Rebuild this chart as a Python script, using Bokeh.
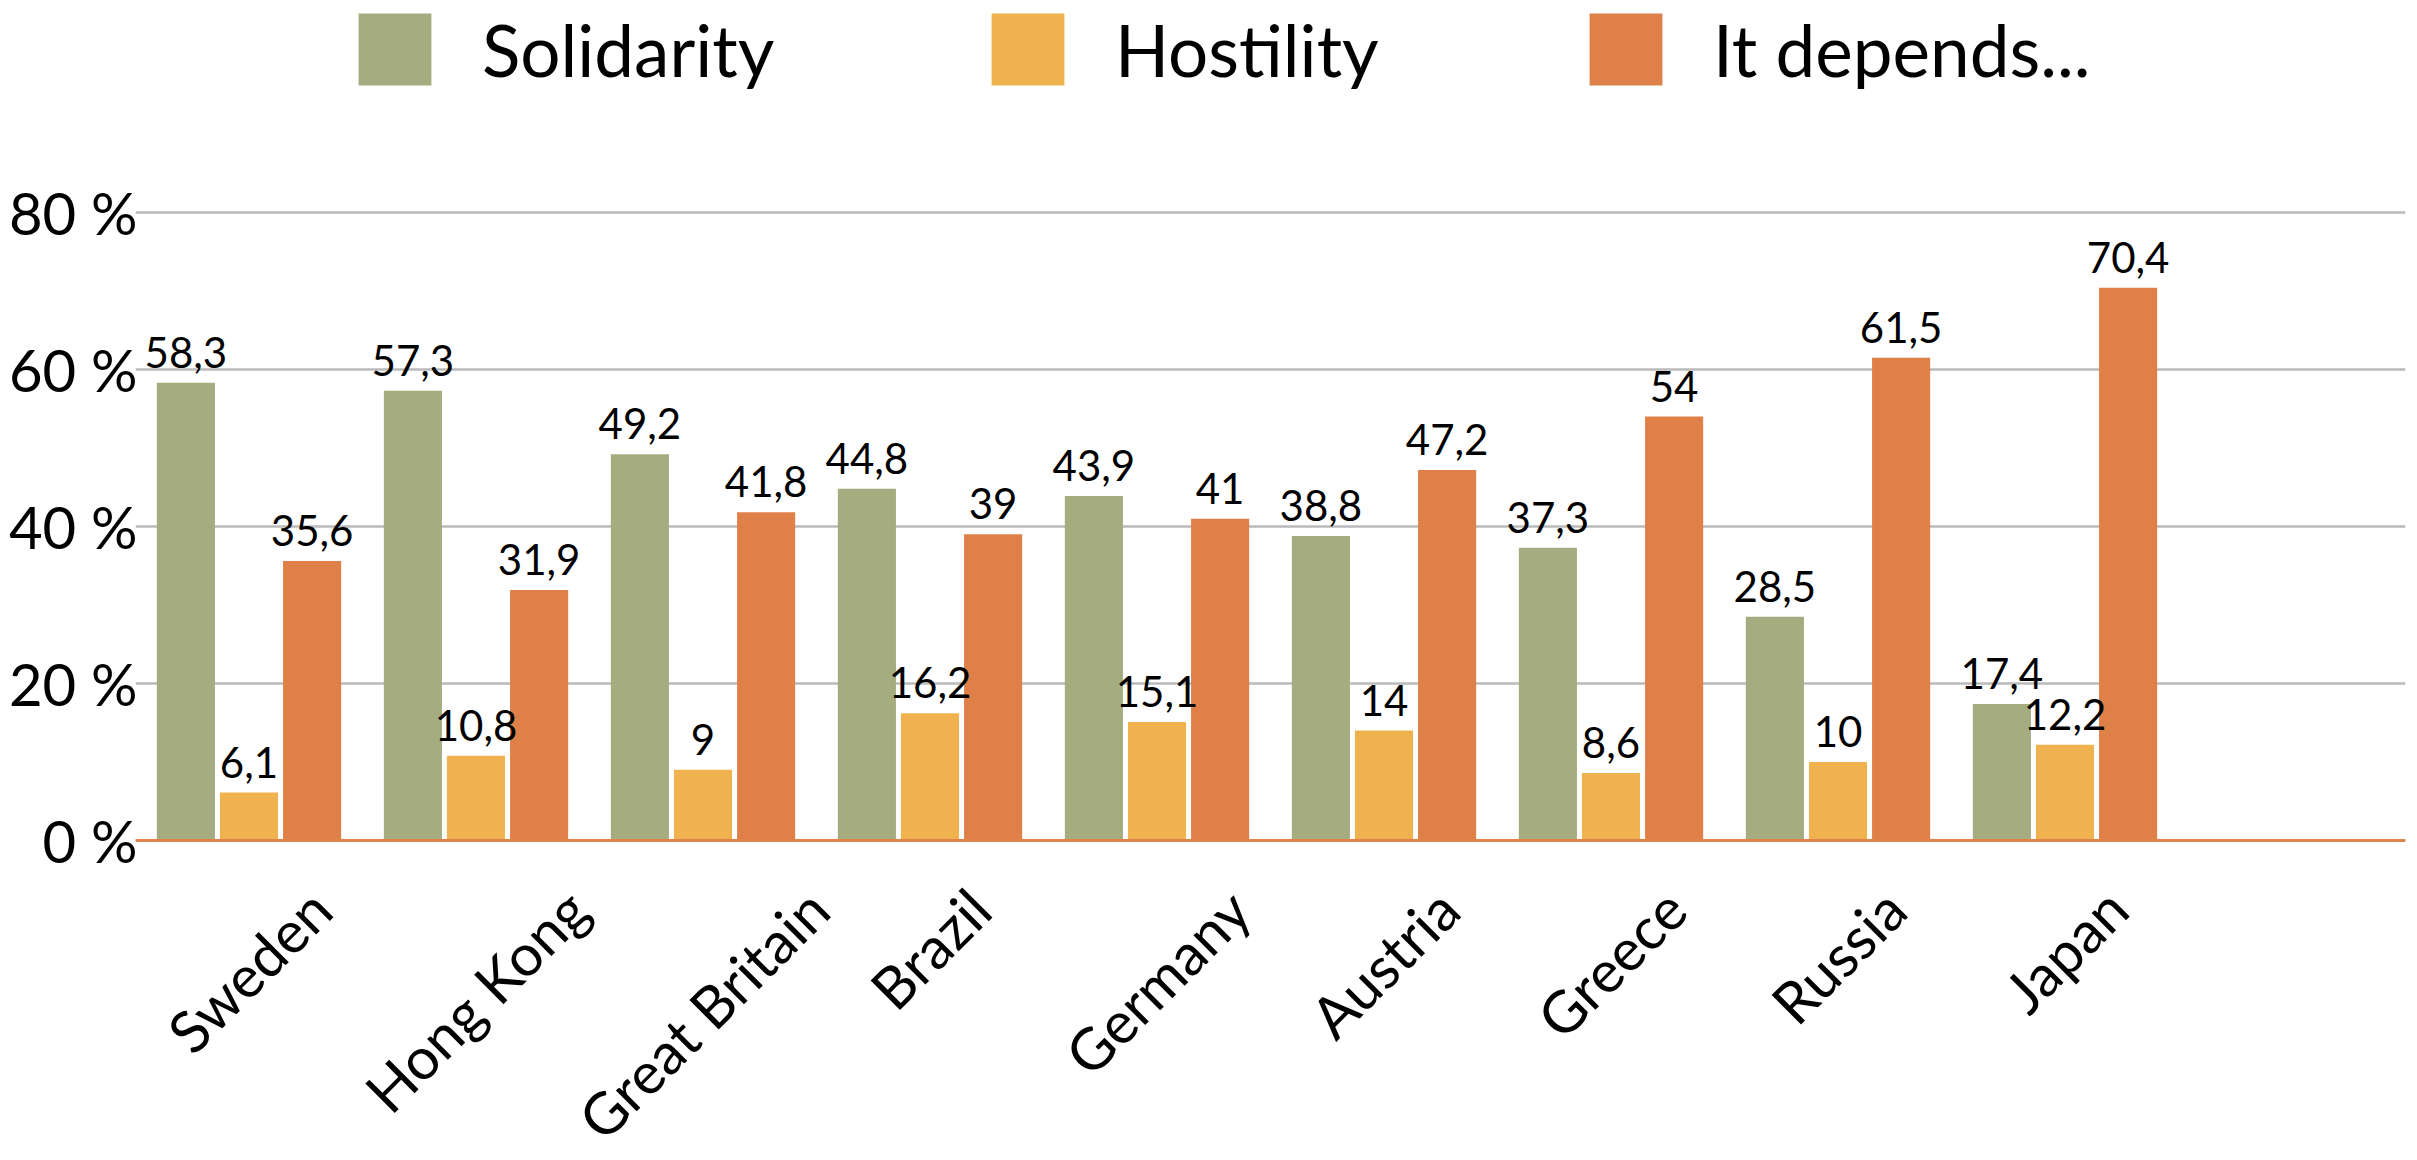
import math
from bokeh.plotting import figure
from bokeh.models import (ColumnDataSource, FactorRange, Range1d, FixedTicker,
                          PrintfTickFormatter, LabelSet, Legend, LegendItem, Span)
from bokeh.transform import dodge
from bokeh.core.properties import value
from bokeh.embed import file_html
from bokeh.resources import INLINE

# ---- data ----
countries = ["Sweden", "Hong Kong", "Great Britain", "Brazil", "Germany",
             "Austria", "Greece", "Russia", "Japan"]
solidarity = [58.3, 57.3, 49.2, 44.8, 43.9, 38.8, 37.3, 28.5, 17.4]
hostility = [6.1, 10.8, 9, 16.2, 15.1, 14, 8.6, 10, 12.2]
depends = [35.6, 31.9, 41.8, 39, 41, 47.2, 54, 61.5, 70.4]
series_names = ["Solidarity", "Hostility", "It depends..."]
y_ticks = [0, 20, 40, 60, 80]

colors = ["#A4AC80", "#F0B24F", "#DF8049"]
FONT = "Lato"


def fmt(v):
    return f"{v:g}".replace(".", ",")


# approximate Lato advance widths (em) for label centring
LATO_W = {" ": 0.19, "A": 0.68, "B": 0.64, "G": 0.73, "H": 0.76, "J": 0.39,
          "K": 0.69, "R": 0.64, "S": 0.53, "a": 0.51, "c": 0.47, "d": 0.58,
          "e": 0.54, "g": 0.53, "i": 0.25, "l": 0.25, "m": 0.86, "n": 0.58,
          "o": 0.58, "p": 0.58, "r": 0.38, "s": 0.44, "t": 0.36, "u": 0.58,
          "w": 0.80, "y": 0.53, "z": 0.47}
CAT_FS = 58


def text_w(s, fs):
    return sum(LATO_W.get(ch, 0.55) for ch in s) * fs


# layout: frame spans full height; value 0 at 840px, 80 at 212px from top
H = 1160
PX_PER_UNIT = (840 - 212) / 80
y_start = -(H - 840) / PX_PER_UNIT
y_end = 80 + 212 / PX_PER_UNIT

p = figure(width=2417, height=H,
           x_range=FactorRange(factors=countries + [" "]),
           y_range=Range1d(y_start, y_end),
           output_backend="svg", toolbar_location=None,
           min_border_left=135, min_border_right=12,
           min_border_top=0, min_border_bottom=0)

src = ColumnDataSource(dict(
    country=countries,
    solidarity=solidarity, hostility=hostility, depends=depends,
    solidarity_lab=[fmt(v) for v in solidarity],
    hostility_lab=[fmt(v) for v in hostility],
    depends_lab=[fmt(v) for v in depends],
))

keys = ["solidarity", "hostility", "depends"]
offsets = [-0.278, 0.0, 0.278]
renderers = []
for key, off, col in zip(keys, offsets, colors):
    r = p.vbar(x=dodge("country", off, range=p.x_range), bottom=0, top=key,
               width=0.256, source=src, fill_color=col, line_color=None)
    renderers.append(r)
    p.add_layout(LabelSet(x=dodge("country", off, range=p.x_range), y=key,
                          text=key + "_lab", source=src,
                          text_align="center", text_baseline="alphabetic",
                          y_offset=15, text_font=value(FONT),
                          text_font_size="42px", text_color="black"))

# baseline at 0
p.add_layout(Span(location=0, dimension="width", line_color="#E0834A",
                  line_width=3))

# legends (one per item, placed at the top)
legend_x = [214, 847, 1445]
for name, r, lx in zip(series_names, renderers, legend_x):
    leg = Legend(items=[LegendItem(label=value(name), renderers=[r])],
                 location=(lx, H - 4 - 90), orientation="horizontal",
                 glyph_width=91, glyph_height=90, label_height=90,
                 label_standoff=42, label_text_font=FONT,
                 label_text_font_size="71px", label_text_color="black",
                 padding=0, margin=0, spacing=0,
                 border_line_color=None, background_fill_alpha=0)
    p.add_layout(leg)

# rotated category labels, centred under each group
cat_src = ColumnDataSource(dict(
    country=countries,
    dy=[-(40 + 0.3536 * (text_w(c, CAT_FS) + 0.8 * CAT_FS)) for c in countries],
))
p.add_layout(LabelSet(x="country", y=0, text="country", source=cat_src,
                      angle=math.pi / 4, text_align="center",
                      text_baseline="middle", y_offset="dy",
                      text_font=value(FONT), text_font_size=f"{CAT_FS}px",
                      text_color="black"))

# axes & grid
p.xaxis.visible = False
p.xgrid.visible = False

p.yaxis.ticker = FixedTicker(ticks=y_ticks)
p.ygrid.ticker = FixedTicker(ticks=y_ticks)
p.yaxis.formatter = PrintfTickFormatter(format="%d %%")
p.yaxis.axis_line_color = None
p.yaxis.major_tick_line_color = None
p.yaxis.minor_tick_line_color = None
p.yaxis.major_label_standoff = -8
p.yaxis.major_label_text_font = FONT
p.yaxis.major_label_text_font_size = "58px"
p.yaxis.major_label_text_color = "black"
p.ygrid.grid_line_color = "#BBBBBB"
p.ygrid.grid_line_width = 2.5

p.outline_line_color = None
p.background_fill_color = "white"
p.border_fill_color = "white"

open("out.html", "w").write(file_html(p, INLINE))
